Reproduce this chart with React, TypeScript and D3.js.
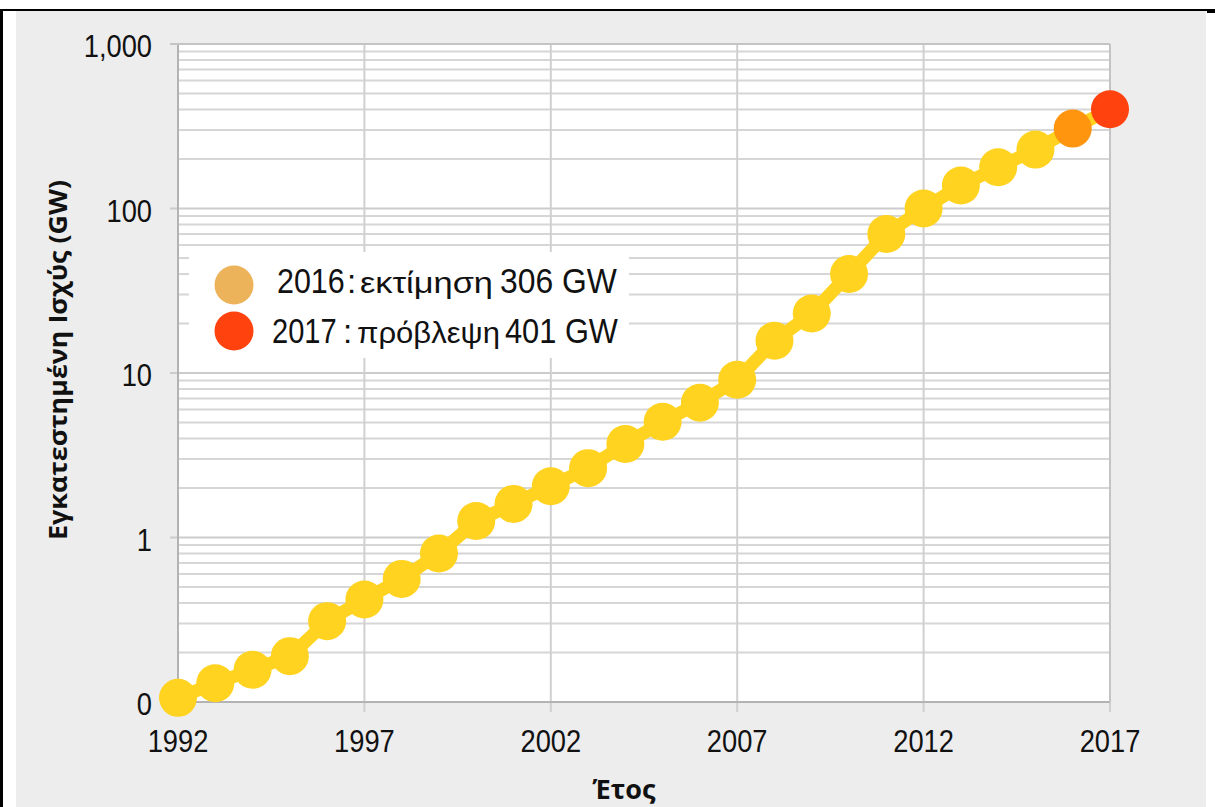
import React from "react";
import * as d3 from "d3";

const years = [1992, 1993, 1994, 1995, 1996, 1997, 1998, 1999, 2000, 2001, 2002, 2003, 2004, 2005, 2006, 2007, 2008, 2009, 2010, 2011, 2012, 2013, 2014, 2015, 2016, 2017];
const capacityGW = [0.106, 0.13, 0.157, 0.19, 0.31, 0.42, 0.56, 0.8, 1.26, 1.6, 2.05, 2.64, 3.7, 5.05, 6.6, 9.1, 15.7, 23, 40, 70, 100, 138, 178, 228, 306, 401];
const yTickValues = [0.1, 1, 10, 100, 1000];
const yTickLabels = ["0", "1", "10", "100", "1,000"];
const xTickYears = [1992, 1997, 2002, 2007, 2012, 2017];
const legendYears = ["2016", "2017"];
const legendWords = ["εκτίμηση", "πρόβλεψη"];
const legendValues = ["306 GW", "401 GW"];
const yAxisTitle = "Εγκατεστημένη Ισχύς (GW)";
const xAxisTitle = "Έτος";

const W = 1215;
const H = 807;
const left = 178, right = 1110, top = 44, bottom = 702;

export default function App() {
  const x = d3.scaleLinear().domain([1992, 2017]).range([left, right]);
  const y = d3.scaleLog().domain([0.1, 1000]).range([bottom, top]);
  const minor: number[] = [];
  for (let e = -1; e < 3; e++) {
    for (let m = 2; m <= 9; m++) minor.push(m * Math.pow(10, e));
  }
  const pts = years.map((yr, i) => [x(yr), y(capacityGW[i])] as [number, number]);
  const line = d3.line()(pts) || "";
  const pointColor = (yr: number) => (yr === 2017 ? "#FF420E" : yr === 2016 ? "#FF950E" : "#FFD320");
  const legendColors = ["#ECB35B", "#FF420E"];
  const font = "'Liberation Sans', Arial, sans-serif";

  return (
    <svg width={W} height={H} style={{ position: "absolute", left: 0, top: 0 }}>
      <rect x={0} y={0} width={W} height={H} fill="#ffffff" />
      <rect x={16} y={11} width={1190} height={H - 11} fill="#EDEDED" />
      <line x1={0} x2={1215} y1={10} y2={10} stroke="#000" strokeWidth={2} />
      <line x1={1207} x2={1215} y1={11.5} y2={11.5} stroke="#000" strokeWidth={3} />
      <line x1={1.5} x2={1.5} y1={9} y2={H} stroke="#000" strokeWidth={3} />

      <rect x={left} y={top} width={right - left} height={bottom - top} fill="#ffffff" />
      {minor.map((v, i) => (
        <line key={"m" + i} x1={left} x2={right} y1={y(v)} y2={y(v)} stroke="#D6D6D6" strokeWidth={2} />
      ))}
      {yTickValues.map((v, i) => (
        <line key={"M" + i} x1={left - 8} x2={right} y1={y(v)} y2={y(v)} stroke="#CCCCCC" strokeWidth={2} />
      ))}
      {xTickYears.map((yr, i) => (
        <line key={"v" + i} x1={x(yr)} x2={x(yr)} y1={top} y2={bottom + 10} stroke="#D0D0D0" strokeWidth={2} />
      ))}
      <line x1={left} x2={left} y1={top} y2={bottom} stroke="#B3B3B3" strokeWidth={2} />
      <line x1={left} x2={right} y1={bottom} y2={bottom} stroke="#B3B3B3" strokeWidth={2} />
      <line x1={right} x2={right} y1={top} y2={bottom} stroke="#C4C4C4" strokeWidth={2} />
      <line x1={left - 8} x2={right} y1={top} y2={top} stroke="#C4C4C4" strokeWidth={2} />

      <rect x={189} y={252} width={440} height={106} fill="#ffffff" />

      <path d={line} fill="none" stroke="#FFD320" strokeWidth={13} strokeLinejoin="round" />
      {years.map((yr, i) => (
        <circle key={"p" + yr} cx={pts[i][0]} cy={pts[i][1]} r={19} fill={pointColor(yr)} />
      ))}

      {yTickValues.map((v, i) => (
        <text key={"yl" + i} transform={`translate(152,${y(v) + 13}) scale(0.88,1)`} textAnchor="end" fontFamily={font} fontSize={31} fill="#111">
          {yTickLabels[i]}
        </text>
      ))}
      {xTickYears.map((yr, i) => (
        <text key={"xl" + i} transform={`translate(${x(yr)},752) scale(0.88,1)`} textAnchor="middle" fontFamily={font} fontSize={31} fill="#111">
          {yr}
        </text>
      ))}

      {legendYears.map((yr, i) => {
        const by = i === 0 ? 293 : 343;
        const cy = i === 0 ? 285 : 331;
        const yrStart = i === 0 ? 277 : 272;
        const yrScale = i === 0 ? 0.87 : 0.83;
        const colonX = i === 0 ? 347 : 343;
        const wStart = i === 0 ? 360 : 357;
        const wLen = i === 0 ? 133 : 143;
        const vStart = i === 0 ? 500 : 505;
        const vScale = i === 0 ? 0.91 : 0.88;
        return (
          <g key={"lg" + i}>
            <circle cx={234} cy={cy} r={19.5} fill={legendColors[i]} />
            <text transform={`translate(${yrStart},${by}) scale(${yrScale},1)`} fontFamily={font} fontSize={35} fill="#111">
              {yr}
            </text>
            <text x={colonX} y={by} fontFamily={font} fontSize={33} fill="#111">:</text>
            <text x={wStart} y={by} fontFamily={font} fontSize={29} fill="#111" textLength={wLen} lengthAdjust="spacingAndGlyphs">
              {legendWords[i]}
            </text>
            <text transform={`translate(${vStart},${by}) scale(${vScale},1)`} fontFamily={font} fontSize={35} fill="#111">
              {legendValues[i]}
            </text>
          </g>
        );
      })}

      <text transform="translate(67,360) rotate(-90)" textAnchor="middle" fontFamily="'Open Sans', sans-serif" fontWeight="bold" fontSize={25} fill="#111" textLength={360} lengthAdjust="spacingAndGlyphs">
        {yAxisTitle}
      </text>
      <text x={624} y={799} textAnchor="middle" fontFamily="'Open Sans', sans-serif" fontWeight="bold" fontSize={27} fill="#111">
        {xAxisTitle}
      </text>
    </svg>
  );
}
